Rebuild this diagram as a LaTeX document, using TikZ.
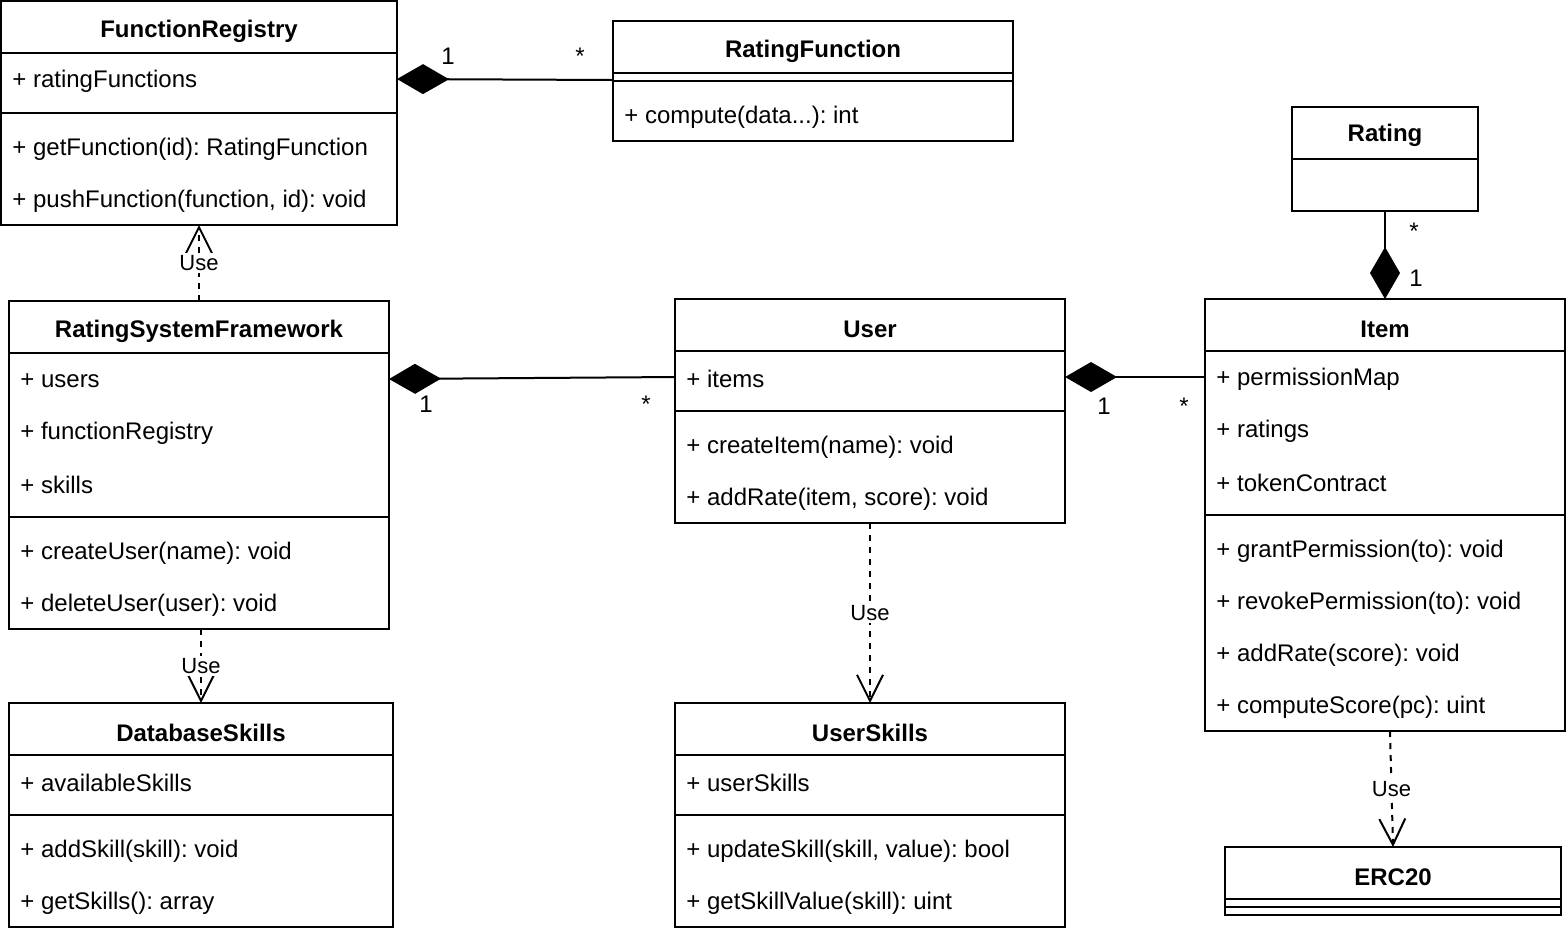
\documentclass[tikz,border=0pt]{standalone}
\usepackage{fontspec}
\setmainfont{Liberation Sans}
\usetikzlibrary{arrows.meta}
\frenchspacing
\begin{document}
\begin{tikzpicture}[x=0.5pt,y=-0.5pt,
  ln/.style={line width=1pt},
  cls/.style={draw, line width=1pt, inner sep=0pt, outer sep=0pt, anchor=north west, fill=white},
  hdr/.style={font=\fontsize{12}{14}\selectfont\bfseries, inner sep=0pt, anchor=center, yshift=-1pt},
  attr/.style={font=\fontsize{12}{14}\selectfont, inner sep=0pt, anchor=west, yshift=-1pt},
  mult/.style={font=\fontsize{12}{14}\selectfont, inner sep=0pt},
  comp/.style={line width=1pt, -{Diamond[length=26pt,width=15pt,fill=black]}},
  use/.style={line width=1pt, dash pattern=on 3pt off 3pt, -{Straight Barb[length=13pt,width=13pt]}},
  usel/.style={font=\fontsize{11}{13}\selectfont, fill=white, inner sep=1pt}]
\useasboundingbox (0,0) rectangle (1566,934);

% FunctionRegistry
\node[cls, minimum width=198pt, minimum height=112pt] (FR) at (1,1) {};
\node[hdr] (FRh) at (199,29) {FunctionRegistry};
\draw[ln] (1,53) -- (397,53);
\draw[ln] (1,113) -- (397,113);
\node[attr] (FRa1) at (12,79) {+ ratingFunctions};
\node[attr] (FRm1) at (12,147) {+ getFunction(id): RatingFunction};
\node[attr] (FRm2) at (12,199) {+ pushFunction(function, id): void};

% RatingFunction
\node[cls, minimum width=200pt, minimum height=60pt] (RF) at (613,21) {};
\node[hdr] (RFh) at (813,49) {RatingFunction};
\draw[ln] (613,73) -- (1013,73);
\draw[ln] (613,81) -- (1013,81);
\node[attr] (RFm1) at (624,115) {+ compute(data...): int};

% Rating
\node[cls, minimum width=93pt, minimum height=52pt] (RA) at (1292,107) {};
\node[hdr] (RAh) at (1385,133) {Rating};
\draw[ln] (1292,159) -- (1478,159);

% RatingSystemFramework
\node[cls, minimum width=190pt, minimum height=164pt] (RSF) at (9,301) {};
\node[hdr] (RSFh) at (199,329) {RatingSystemFramework};
\draw[ln] (9,353) -- (389,353);
\draw[ln] (9,517) -- (389,517);
\node[attr] (RSFa1) at (20,379) {+ users};
\node[attr] (RSFa2) at (20,431) {+ functionRegistry};
\node[attr] (RSFa3) at (20,483) {+ skills};
\node[attr] (RSFm1) at (20,551) {+ createUser(name): void};
\node[attr] (RSFm2) at (20,603) {+ deleteUser(user): void};

% User
\node[cls, minimum width=195pt, minimum height=112pt] (US) at (675,299) {};
\node[hdr] (USh) at (870,327) {User};
\draw[ln] (675,351) -- (1065,351);
\draw[ln] (675,411) -- (1065,411);
\node[attr] (USa1) at (686,377) {+ items};
\node[attr] (USm1) at (686,445) {+ createItem(name): void};
\node[attr] (USm2) at (686,497) {+ addRate(item, score): void};

% Item
\node[cls, minimum width=180pt, minimum height=216pt] (IT) at (1205,299) {};
\node[hdr] (ITh) at (1385,327) {Item};
\draw[ln] (1205,351) -- (1565,351);
\draw[ln] (1205,515) -- (1565,515);
\node[attr] (ITa1) at (1216,377) {+ permissionMap};
\node[attr] (ITa2) at (1216,429) {+ ratings};
\node[attr] (ITa3) at (1216,481) {+ tokenContract};
\node[attr] (ITm1) at (1216,549) {+ grantPermission(to): void};
\node[attr] (ITm2) at (1216,601) {+ revokePermission(to): void};
\node[attr] (ITm3) at (1216,653) {+ addRate(score): void};
\node[attr] (ITm4) at (1216,705) {+ computeScore(pc): uint};

% DatabaseSkills
\node[cls, minimum width=192pt, minimum height=112pt] (DB) at (9,703) {};
\node[hdr] (DBh) at (201,731) {DatabaseSkills};
\draw[ln] (9,755) -- (393,755);
\draw[ln] (9,815) -- (393,815);
\node[attr] (DBa1) at (20,781) {+ availableSkills};
\node[attr] (DBm1) at (20,849) {+ addSkill(skill): void};
\node[attr] (DBm2) at (20,901) {+ getSkills(): array};

% UserSkills
\node[cls, minimum width=195pt, minimum height=112pt] (SK) at (675,703) {};
\node[hdr] (SKh) at (870,731) {UserSkills};
\draw[ln] (675,755) -- (1065,755);
\draw[ln] (675,815) -- (1065,815);
\node[attr] (SKa1) at (686,781) {+ userSkills};
\node[attr] (SKm1) at (686,849) {+ updateSkill(skill, value): bool};
\node[attr] (SKm2) at (686,901) {+ getSkillValue(skill): uint};

% ERC20
\node[cls, minimum width=168pt, minimum height=34pt] (ER) at (1225,847) {};
\node[hdr] (ERh) at (1393,875) {ERC20};
\draw[ln] (1225,899) -- (1561,899);
\draw[ln] (1225,907) -- (1561,907);

% connection points
\coordinate (pFR) at (397,79);
\coordinate (pRF) at (613,80);
\coordinate (pRSFr) at (389,379);
\coordinate (pUSl) at (675,377);
\coordinate (pUSr) at (1065,377);
\coordinate (pITl) at (1205,377);
\coordinate (pRSFb) at (201,629);
\coordinate (pDBt) at (201,703);
\coordinate (pITb) at (1390,731);
\coordinate (pERt) at (1393,847);

% compositions
\draw[comp] (pRF) -- (pFR);
\draw[comp] (pUSl) -- (pRSFr);
\draw[comp] (pITl) -- (pUSr);
\draw[comp] (RA.south) -- (IT.north);

% dependencies
\draw[use] (RSF.north) -- node[usel] (u1) {Use} (FR.south);
\draw[use] (pRSFb) -- node[usel] (u2) {Use} (pDBt);
\draw[use] (US.south) -- node[usel] (u3) {Use} (SK.north);
\draw[use] (pITb) -- node[usel] (u4) {Use} (pERt);

% multiplicities
\node[mult] (m1) at (448,56) {1};
\node[mult] (m2) at (580,56) {*};
\node[mult] (m3) at (426,404) {1};
\node[mult] (m4) at (646,404) {*};
\node[mult] (m5) at (1104,406) {1};
\node[mult] (m6) at (1184,406) {*};
\node[mult] (m7) at (1414,231) {*};
\node[mult] (m8) at (1416,278) {1};
\end{tikzpicture}
\end{document}
